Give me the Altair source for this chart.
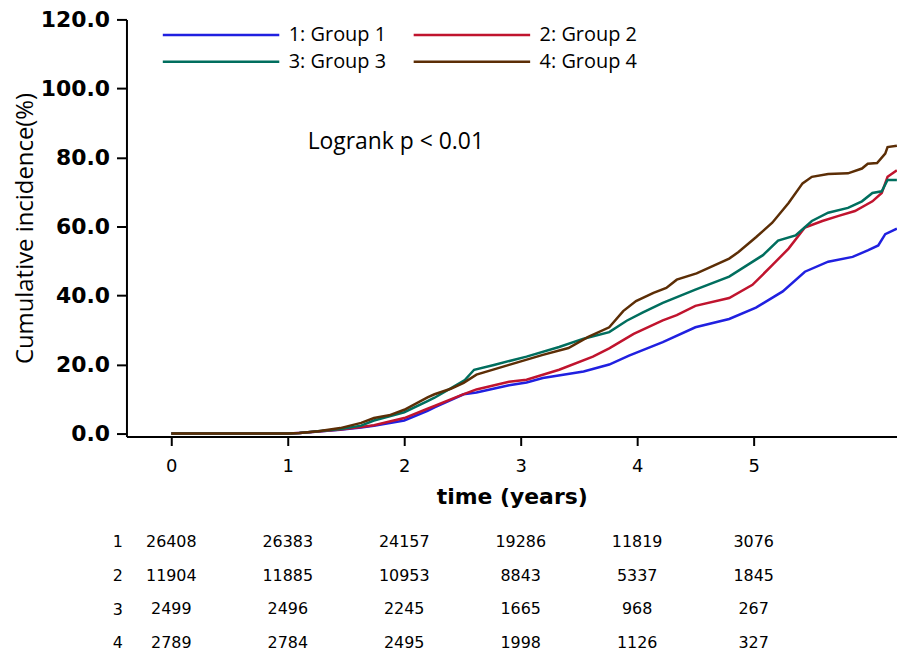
import altair as alt
import pandas as pd

# ---- curve data (time in years, cumulative incidence %) ----
g1_t = [0, 1.0, 1.1, 1.26, 1.45, 1.63, 1.74, 2.0, 2.2, 2.26, 2.51, 2.62, 2.9, 3.05, 3.19, 3.54, 3.76, 3.93, 4.22, 4.5, 4.79, 5.02, 5.25, 5.44, 5.64, 5.85, 5.98, 6.07, 6.13, 6.23]
g1_v = [0, 0, 0.2, 0.6, 1.1, 1.8, 2.3, 3.8, 6.6, 7.6, 11.4, 11.9, 14.0, 14.8, 16.1, 18.0, 20.0, 22.6, 26.5, 30.8, 33.2, 36.5, 41.2, 46.9, 49.8, 51.2, 53.1, 54.5, 57.8, 59.4]

g2_t = [0, 1.0, 1.1, 1.26, 1.45, 1.63, 1.74, 2.0, 2.2, 2.26, 2.5, 2.62, 2.9, 3.05, 3.33, 3.62, 3.76, 3.97, 4.22, 4.34, 4.5, 4.79, 4.99, 5.16, 5.3, 5.44, 5.59, 5.73, 5.87, 6.02, 6.1, 6.15, 6.23]
g2_v = [0, 0, 0.2, 0.6, 1.2, 1.9, 2.4, 4.5, 7.2, 8.0, 11.3, 12.8, 15.0, 15.6, 18.5, 22.3, 24.7, 28.9, 32.8, 34.3, 37.0, 39.3, 43.1, 48.8, 53.6, 59.7, 61.6, 63.1, 64.5, 67.3, 69.7, 74.4, 76.3]

g3_t = [0, 1.0, 1.1, 1.26, 1.45, 1.63, 1.74, 2.0, 2.2, 2.26, 2.48, 2.52, 2.6, 2.77, 3.05, 3.33, 3.54, 3.76, 3.91, 4.05, 4.22, 4.5, 4.79, 5.08, 5.21, 5.36, 5.5, 5.64, 5.81, 5.93, 6.02, 6.1, 6.15, 6.23]
g3_v = [0, 0, 0.2, 0.65, 1.3, 2.3, 3.8, 6.2, 9.4, 10.4, 14.7, 15.5, 18.5, 19.9, 22.3, 25.1, 27.5, 29.4, 32.7, 35.1, 37.9, 41.7, 45.5, 51.7, 55.9, 57.4, 61.6, 64.0, 65.4, 67.3, 69.7, 70.2, 73.5, 73.5]

g4_t = [0, 1.0, 1.1, 1.26, 1.45, 1.63, 1.74, 1.87, 2.0, 2.2, 2.26, 2.4, 2.51, 2.62, 2.9, 3.19, 3.41, 3.58, 3.76, 3.88, 3.99, 4.14, 4.25, 4.34, 4.51, 4.79, 4.87, 5.02, 5.16, 5.3, 5.42, 5.5, 5.64, 5.81, 5.93, 5.98, 6.06, 6.13, 6.15, 6.23]
g4_v = [0, 0, 0.2, 0.7, 1.6, 3.1, 4.5, 5.3, 6.9, 10.5, 11.4, 13.0, 14.7, 17.1, 19.9, 22.8, 24.8, 28.0, 30.8, 35.5, 38.4, 40.8, 42.2, 44.6, 46.4, 50.7, 52.6, 56.9, 61.1, 66.8, 72.5, 74.4, 75.2, 75.4, 76.8, 78.2, 78.4, 81.1, 83.0, 83.4]

group_names = ["1: Group 1", "2: Group 2", "3: Group 3", "4: Group 4"]
group_colors = ["#2020E0", "#C0142E", "#006E5E", "#5C2E06"]

# ---- numbers at risk ----
risk_times = [0, 1, 2, 3, 4, 5]
risk_rows = ["1", "2", "3", "4"]
risk_1 = [26408, 26383, 24157, 19286, 11819, 3076]
risk_2 = [11904, 11885, 10953, 8843, 5337, 1845]
risk_3 = [2499, 2496, 2245, 1665, 968, 267]
risk_4 = [2789, 2784, 2495, 1998, 1126, 327]

y_ticks = [0, 20, 40, 60, 80, 100, 120]
x_ticks = [0, 1, 2, 3, 4, 5]
annotation = "Logrank p < 0.01"

# ---- build tables ----
rows = []
for name, ts, vs in zip(group_names, [g1_t, g2_t, g3_t, g4_t], [g1_v, g2_v, g3_v, g4_v]):
    for t, v in zip(ts, vs):
        rows.append({"time": t, "value": v, "group": name})
curves = pd.DataFrame(rows)

rrows = []
for r, vals in zip(risk_rows, [risk_1, risk_2, risk_3, risk_4]):
    for t, n in zip(risk_times, vals):
        rrows.append({"time": t, "row": r, "n": str(n)})
risk = pd.DataFrame(rrows)

W = 774
H = 419
x_scale = alt.Scale(domain=[-0.385, 6.231], nice=False, zero=False)

lines = alt.Chart(curves).mark_line(strokeWidth=2.5, clip=True).encode(
    x=alt.X("time:Q", scale=x_scale,
            axis=alt.Axis(values=x_ticks, format="d", title="time (years)",
                          labelFont="DejaVu Sans", labelFontSize=18, labelPadding=12,
                          titleFont="DejaVu Sans", titleFontSize=22, titleFontWeight="bold",
                          titlePadding=11, tickSize=9, grid=False)),
    y=alt.Y("value:Q", scale=alt.Scale(domain=[-0.85, 120], nice=False, zero=False),
            axis=alt.Axis(values=y_ticks, format=".1f", title="Cumulative incidence(%)",
                          labelFont="DejaVu Sans", labelFontSize=22, labelFontWeight="bold",
                          labelPadding=7, tickSize=10,
                          titleFont="Open Sans", titleFontSize=24, titleFontWeight="normal",
                          titlePadding=3, grid=False)),
    color=alt.Color("group:N", scale=alt.Scale(domain=group_names, range=group_colors),
                    legend=alt.Legend(orient="none", legendX=132, legendY=4, columns=2,
                                      direction="horizontal",
                                      title=None, symbolType="M-10.7,0H1", symbolSize=400,
                                      symbolStrokeWidth=2.5, labelFont="Open Sans",
                                      labelFontSize=20, labelOffset=8, columnPadding=22,
                                      rowPadding=5, padding=0, labelColor="black")),
    order=alt.Order("time:Q"),
)

note = alt.Chart(pd.DataFrame({"label": [annotation]})).mark_text(
    align="left", baseline="middle", font="Open Sans", fontSize=23, color="black"
).encode(x=alt.value(182), y=alt.value(123), text="label:N")

main = alt.layer(lines, note).properties(width=W, height=H)

table = alt.Chart(risk).mark_text(font="DejaVu Sans", fontSize=16, color="black").encode(
    x=alt.X("time:Q", scale=x_scale, axis=None),
    y=alt.Y("row:O", sort=risk_rows,
            axis=alt.Axis(title=None, domain=False, ticks=False, labelAngle=0,
                          labelFont="DejaVu Sans", labelFontSize=16, labelPadding=4,
                          labelColor="black")),
    text="n:N",
).properties(width=W, height=135)

chart = alt.vconcat(main, table, spacing=18).properties(
    padding={"left": 5, "top": -1, "right": 0, "bottom": 0}
).configure_view(stroke=None).configure_axis(
    domainColor="black", domainWidth=2, tickColor="black", tickWidth=2,
    labelColor="black", titleColor="black"
)

chart.save("out.html", embed_options={"renderer": "svg", "actions": False})
